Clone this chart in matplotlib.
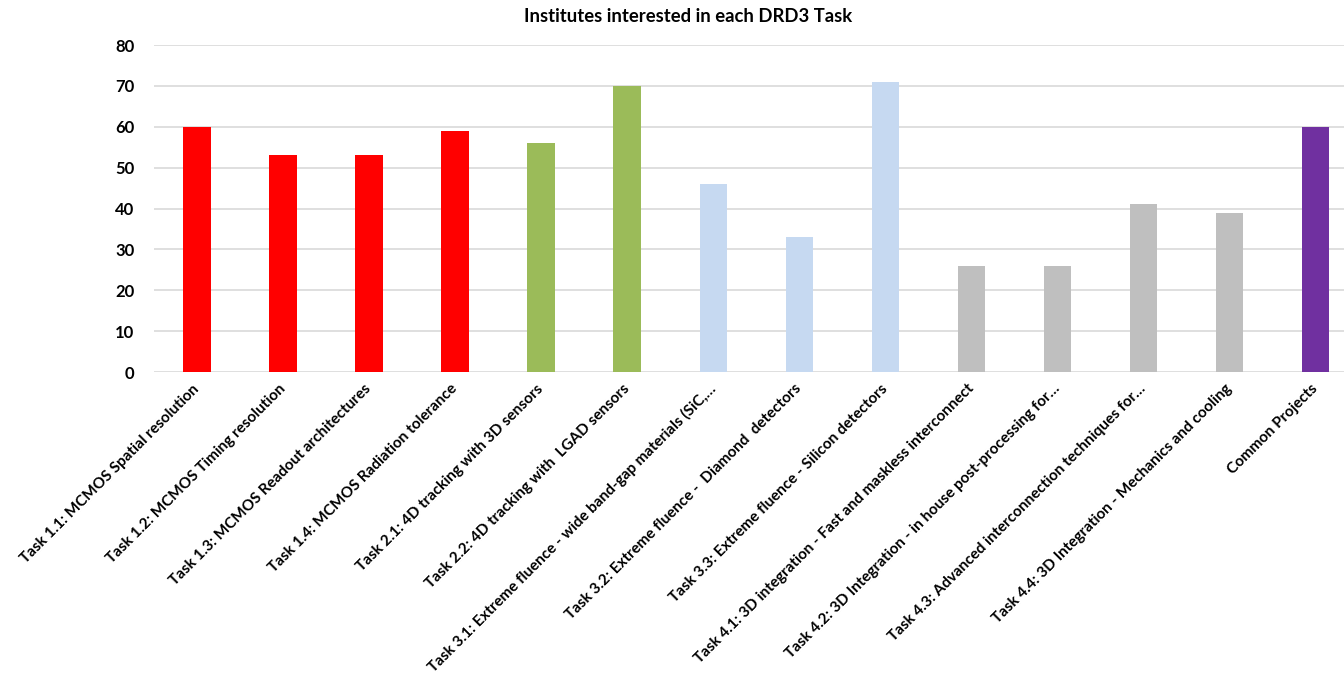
import matplotlib
matplotlib.use('Agg')
import matplotlib.pyplot as plt
import matplotlib.transforms as mtransforms
import numpy as np

plt.rcParams['font.family'] = ['Lato', 'DejaVu Sans']

# Data
tasks = [
    'Task 1.1: MCMOS Spatial resolution',
    'Task 1.2: MCMOS Timing resolution',
    'Task 1.3: MCMOS Readout architectures',
    'Task 1.4: MCMOS Radiation tolerance',
    'Task 2.1: 4D tracking with 3D sensors',
    'Task 2.2: 4D tracking with  LGAD sensors',
    'Task 3.1: Extreme fluence - wide band-gap materials (SiC,\u2026',
    'Task 3.2: Extreme fluence -  Diamond  detectors',
    'Task 3.3: Extreme fluence - Silicon detectors',
    'Task 4.1: 3D integration - Fast and maskless interconnect',
    'Task 4.2: 3D Integration - in house post-processing for\u2026',
    'Task 4.3: Advanced interconnection techniques for\u2026',
    'Task 4.4: 3D Integration - Mechanics and cooling',
    'Common Projects',
]
institutes = [60, 53, 53, 59, 56, 70, 46, 33, 71, 26, 26, 41, 39, 60]
bar_colors = ['#FF0000'] * 4 + ['#9BBB59'] * 2 + ['#C6D9F1'] * 3 + ['#BFBFBF'] * 4 + ['#7030A0']

fig = plt.figure(figsize=(13.44, 6.8), dpi=100)
ax = fig.add_axes([154 / 1344, 1 - 372 / 680, 1 - 154 / 1344, (372 - 45) / 680])

x = np.arange(len(tasks))
ax.bar(x, institutes, width=0.32, color=bar_colors, zorder=3)

ax.set_xlim(-0.5, 13.33)
ax.set_ylim(0, 80)
ax.set_yticks(range(0, 81, 10))
ax.yaxis.grid(True, color='#D9D9D9', linewidth=1.2, zorder=0)
for s in ax.spines.values():
    s.set_visible(False)
ax.tick_params(axis='both', length=0)
ax.tick_params(axis='y', pad=14, labelsize=12)
ax.tick_params(axis='x', pad=7)

ax.set_xticks(x)
ax.set_xticklabels(tasks, rotation=45, ha='right', rotation_mode='anchor',
                   fontsize=11, fontweight='bold')
shift = mtransforms.ScaledTranslation(-5 / 100, 0, fig.dpi_scale_trans)
for lbl in ax.get_xticklabels():
    lbl.set_transform(lbl.get_transform() + shift)
for lbl in ax.get_yticklabels():
    lbl.set_fontweight('bold')

fig.text(688 / 1344, 1 - 17 / 680, 'Institutes interested in each DRD3 Task',
         ha='center', va='center', fontsize=13.3, fontweight='bold')

fig.savefig('out.png', dpi=100)
